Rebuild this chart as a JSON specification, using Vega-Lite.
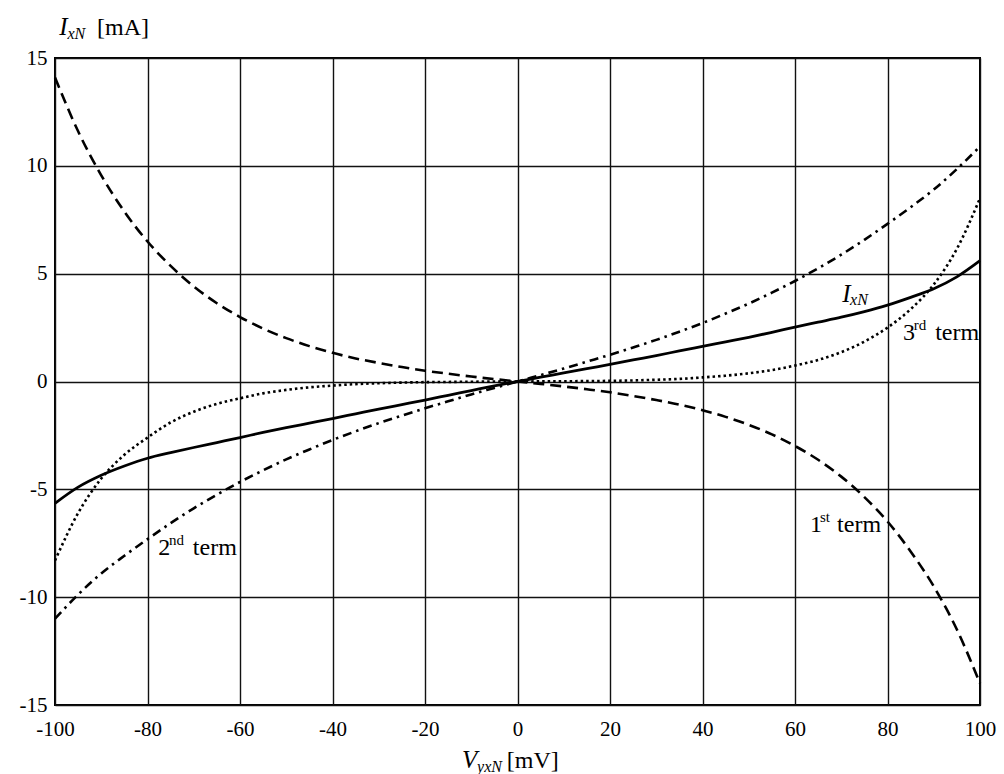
{
  "$schema": "https://vega.github.io/schema/vega-lite/v6.json",
  "width": 925,
  "height": 647,
  "autosize": {"type": "none"},
  "padding": {"left": 55, "top": 58, "right": 24, "bottom": 69},
  "background": "white",
  "config": {
    "view": {"stroke": "#000", "strokeWidth": 2},
    "axis": {
      "domain": false,
      "ticks": false,
      "grid": true,
      "gridColor": "#111",
      "gridOpacity": 1,
      "gridWidth": 1.4,
      "labelFont": "Liberation Serif, DejaVu Serif, serif",
      "labelFontSize": 21,
      "labelColor": "#000",
      "title": null
    },
    "text": {"font": "Liberation Serif, DejaVu Serif, serif", "color": "#000"}
  },
  "datasets": {
    "curves": [
      {"v": -100, "i": 14.1, "s": "t1"}, {"v": -95, "i": 11.6, "s": "t1"}, {"v": -90, "i": 9.56, "s": "t1"}, {"v": -85, "i": 7.88, "s": "t1"}, {"v": -80, "i": 6.49, "s": "t1"}, {"v": -75, "i": 5.36, "s": "t1"}, {"v": -70, "i": 4.41, "s": "t1"}, {"v": -65, "i": 3.63, "s": "t1"}, {"v": -60, "i": 2.99, "s": "t1"}, {"v": -55, "i": 2.45, "s": "t1"}, {"v": -50, "i": 2.01, "s": "t1"}, {"v": -45, "i": 1.64, "s": "t1"}, {"v": -40, "i": 1.33, "s": "t1"}, {"v": -35, "i": 1.07, "s": "t1"}, {"v": -30, "i": 0.86, "s": "t1"}, {"v": -25, "i": 0.67, "s": "t1"}, {"v": -20, "i": 0.5, "s": "t1"}, {"v": -15, "i": 0.36, "s": "t1"}, {"v": -10, "i": 0.23, "s": "t1"}, {"v": -5, "i": 0.11, "s": "t1"}, {"v": 0, "i": 0, "s": "t1"}, {"v": 5, "i": -0.11, "s": "t1"}, {"v": 10, "i": -0.23, "s": "t1"}, {"v": 15, "i": -0.36, "s": "t1"}, {"v": 20, "i": -0.5, "s": "t1"}, {"v": 25, "i": -0.67, "s": "t1"}, {"v": 30, "i": -0.86, "s": "t1"}, {"v": 35, "i": -1.07, "s": "t1"}, {"v": 40, "i": -1.33, "s": "t1"}, {"v": 45, "i": -1.64, "s": "t1"}, {"v": 50, "i": -2.01, "s": "t1"}, {"v": 55, "i": -2.45, "s": "t1"}, {"v": 60, "i": -2.99, "s": "t1"}, {"v": 65, "i": -3.63, "s": "t1"}, {"v": 70, "i": -4.41, "s": "t1"}, {"v": 75, "i": -5.36, "s": "t1"}, {"v": 80, "i": -6.49, "s": "t1"}, {"v": 85, "i": -7.88, "s": "t1"}, {"v": 90, "i": -9.5, "s": "t1"}, {"v": 95, "i": -11.5, "s": "t1"}, {"v": 100, "i": -14.0, "s": "t1"},

      {"v": -100, "i": -11.0, "s": "t2"}, {"v": -95, "i": -9.88, "s": "t2"}, {"v": -90, "i": -8.9, "s": "t2"}, {"v": -85, "i": -8.08, "s": "t2"}, {"v": -80, "i": -7.31, "s": "t2"}, {"v": -75, "i": -6.57, "s": "t2"}, {"v": -70, "i": -5.88, "s": "t2"}, {"v": -65, "i": -5.25, "s": "t2"}, {"v": -60, "i": -4.66, "s": "t2"}, {"v": -55, "i": -4.12, "s": "t2"}, {"v": -50, "i": -3.61, "s": "t2"}, {"v": -45, "i": -3.15, "s": "t2"}, {"v": -40, "i": -2.71, "s": "t2"}, {"v": -35, "i": -2.31, "s": "t2"}, {"v": -30, "i": -1.93, "s": "t2"}, {"v": -25, "i": -1.58, "s": "t2"}, {"v": -20, "i": -1.24, "s": "t2"}, {"v": -15, "i": -0.92, "s": "t2"}, {"v": -10, "i": -0.6, "s": "t2"}, {"v": -5, "i": -0.3, "s": "t2"}, {"v": 0, "i": 0, "s": "t2"}, {"v": 5, "i": 0.3, "s": "t2"}, {"v": 10, "i": 0.6, "s": "t2"}, {"v": 15, "i": 0.92, "s": "t2"}, {"v": 20, "i": 1.24, "s": "t2"}, {"v": 25, "i": 1.58, "s": "t2"}, {"v": 30, "i": 1.93, "s": "t2"}, {"v": 35, "i": 2.31, "s": "t2"}, {"v": 40, "i": 2.71, "s": "t2"}, {"v": 45, "i": 3.15, "s": "t2"}, {"v": 50, "i": 3.61, "s": "t2"}, {"v": 55, "i": 4.12, "s": "t2"}, {"v": 60, "i": 4.66, "s": "t2"}, {"v": 65, "i": 5.25, "s": "t2"}, {"v": 70, "i": 5.88, "s": "t2"}, {"v": 75, "i": 6.57, "s": "t2"}, {"v": 80, "i": 7.31, "s": "t2"}, {"v": 85, "i": 8.08, "s": "t2"}, {"v": 90, "i": 8.9, "s": "t2"}, {"v": 95, "i": 9.85, "s": "t2"}, {"v": 100, "i": 10.9, "s": "t2"},

      {"v": -100, "i": -8.3, "s": "t3"}, {"v": -95, "i": -6.1, "s": "t3"}, {"v": -90, "i": -4.5, "s": "t3"}, {"v": -85, "i": -3.4, "s": "t3"}, {"v": -80, "i": -2.6, "s": "t3"}, {"v": -75, "i": -1.9, "s": "t3"}, {"v": -70, "i": -1.4, "s": "t3"}, {"v": -65, "i": -1.04, "s": "t3"}, {"v": -60, "i": -0.78, "s": "t3"}, {"v": -55, "i": -0.55, "s": "t3"}, {"v": -50, "i": -0.39, "s": "t3"}, {"v": -45, "i": -0.27, "s": "t3"}, {"v": -40, "i": -0.19, "s": "t3"}, {"v": -35, "i": -0.12, "s": "t3"}, {"v": -30, "i": -0.08, "s": "t3"}, {"v": -25, "i": -0.05, "s": "t3"}, {"v": -20, "i": -0.03, "s": "t3"}, {"v": -15, "i": -0.02, "s": "t3"}, {"v": -10, "i": -0.01, "s": "t3"}, {"v": -5, "i": -0.005, "s": "t3"}, {"v": 0, "i": 0, "s": "t3"}, {"v": 5, "i": 0.005, "s": "t3"}, {"v": 10, "i": 0.01, "s": "t3"}, {"v": 15, "i": 0.02, "s": "t3"}, {"v": 20, "i": 0.03, "s": "t3"}, {"v": 25, "i": 0.05, "s": "t3"}, {"v": 30, "i": 0.08, "s": "t3"}, {"v": 35, "i": 0.12, "s": "t3"}, {"v": 40, "i": 0.19, "s": "t3"}, {"v": 45, "i": 0.27, "s": "t3"}, {"v": 50, "i": 0.38, "s": "t3"}, {"v": 55, "i": 0.53, "s": "t3"}, {"v": 60, "i": 0.74, "s": "t3"}, {"v": 65, "i": 1.0, "s": "t3"}, {"v": 70, "i": 1.36, "s": "t3"}, {"v": 75, "i": 1.85, "s": "t3"}, {"v": 80, "i": 2.5, "s": "t3"}, {"v": 85, "i": 3.35, "s": "t3"}, {"v": 90, "i": 4.5, "s": "t3"}, {"v": 95, "i": 6.15, "s": "t3"}, {"v": 100, "i": 8.5, "s": "t3"},

      {"v": -100, "i": -5.65, "s": "ixn"}, {"v": -95, "i": -4.9, "s": "ixn"}, {"v": -90, "i": -4.35, "s": "ixn"}, {"v": -85, "i": -3.92, "s": "ixn"}, {"v": -80, "i": -3.56, "s": "ixn"}, {"v": -75, "i": -3.3, "s": "ixn"}, {"v": -70, "i": -3.06, "s": "ixn"}, {"v": -65, "i": -2.83, "s": "ixn"}, {"v": -60, "i": -2.6, "s": "ixn"}, {"v": -55, "i": -2.36, "s": "ixn"}, {"v": -50, "i": -2.14, "s": "ixn"}, {"v": -45, "i": -1.93, "s": "ixn"}, {"v": -40, "i": -1.72, "s": "ixn"}, {"v": -35, "i": -1.5, "s": "ixn"}, {"v": -30, "i": -1.28, "s": "ixn"}, {"v": -25, "i": -1.07, "s": "ixn"}, {"v": -20, "i": -0.86, "s": "ixn"}, {"v": -15, "i": -0.64, "s": "ixn"}, {"v": -10, "i": -0.42, "s": "ixn"}, {"v": -5, "i": -0.2, "s": "ixn"}, {"v": 0, "i": 0, "s": "ixn"}, {"v": 5, "i": 0.2, "s": "ixn"}, {"v": 10, "i": 0.4, "s": "ixn"}, {"v": 15, "i": 0.6, "s": "ixn"}, {"v": 20, "i": 0.79, "s": "ixn"}, {"v": 25, "i": 1.0, "s": "ixn"}, {"v": 30, "i": 1.2, "s": "ixn"}, {"v": 35, "i": 1.42, "s": "ixn"}, {"v": 40, "i": 1.63, "s": "ixn"}, {"v": 45, "i": 1.84, "s": "ixn"}, {"v": 50, "i": 2.05, "s": "ixn"}, {"v": 55, "i": 2.28, "s": "ixn"}, {"v": 60, "i": 2.52, "s": "ixn"}, {"v": 65, "i": 2.75, "s": "ixn"}, {"v": 70, "i": 2.98, "s": "ixn"}, {"v": 75, "i": 3.24, "s": "ixn"}, {"v": 80, "i": 3.54, "s": "ixn"}, {"v": 85, "i": 3.9, "s": "ixn"}, {"v": 90, "i": 4.3, "s": "ixn"}, {"v": 95, "i": 4.85, "s": "ixn"}, {"v": 100, "i": 5.6, "s": "ixn"}
    ],
    "labels": [
      {"v": -99.1, "i": 16.06, "t": "I", "k": "it"},
      {"v": -97.3, "i": 15.9, "t": "xN", "k": "sub"},
      {"v": -90.9, "i": 16.06, "t": "[mA]", "k": "reg"},
      {"v": -12.0, "i": -17.9, "t": "V", "k": "it"},
      {"v": -8.75, "i": -18.1, "t": "yxN", "k": "sub"},
      {"v": -2.3, "i": -17.9, "t": "[mV]", "k": "reg"},
      {"v": 70.2, "i": 3.7, "t": "I", "k": "it"},
      {"v": 71.9, "i": 3.55, "t": "xN", "k": "sub"},
      {"v": 83.35, "i": 1.92, "t": "3", "k": "reg"},
      {"v": 85.7, "i": 2.39, "t": "rd", "k": "sup"},
      {"v": 90.3, "i": 1.92, "t": "term", "k": "reg"},
      {"v": -77.7, "i": -8.04, "t": "2", "k": "reg"},
      {"v": -75.35, "i": -7.58, "t": "nd", "k": "sup"},
      {"v": -70.2, "i": -8.04, "t": "term", "k": "reg"},
      {"v": 63.24, "i": -6.96, "t": "1", "k": "reg"},
      {"v": 65.4, "i": -6.5, "t": "st", "k": "sup"},
      {"v": 69.1, "i": -6.96, "t": "term", "k": "reg"}
    ]
  },
  "encoding": {
    "x": {
      "field": "v", "type": "quantitative",
      "scale": {"domain": [-100, 100], "nice": false, "zero": false},
      "axis": {"values": [-100, -80, -60, -40, -20, 0, 20, 40, 60, 80, 100], "labelPadding": 13, "labelExpr": "'' + datum.value", "labelFlush": false, "labelOverlap": false}
    },
    "y": {
      "field": "i", "type": "quantitative",
      "scale": {"domain": [-15, 15], "nice": false, "zero": false},
      "axis": {"values": [-15, -10, -5, 0, 5, 10, 15], "labelPadding": 8, "labelExpr": "'' + datum.value", "labelFlush": false, "labelOverlap": false}
    }
  },
  "layer": [
    {
      "data": {"name": "curves"},
      "transform": [{"filter": "datum.s === 't1'"}],
      "mark": {"type": "line", "color": "#000", "strokeWidth": 2.6, "strokeDash": [11, 6], "interpolate": "monotone"}
    },
    {
      "data": {"name": "curves"},
      "transform": [{"filter": "datum.s === 't2'"}],
      "mark": {"type": "line", "color": "#000", "strokeWidth": 2.6, "strokeDash": [9, 5, 2.5, 5], "interpolate": "monotone"}
    },
    {
      "data": {"name": "curves"},
      "transform": [{"filter": "datum.s === 't3'"}],
      "mark": {"type": "line", "color": "#000", "strokeWidth": 2.6, "strokeDash": [2.5, 3], "interpolate": "monotone"}
    },
    {
      "data": {"name": "curves"},
      "transform": [{"filter": "datum.s === 'ixn'"}],
      "mark": {"type": "line", "color": "#000", "strokeWidth": 2.8, "interpolate": "monotone"}
    },
    {
      "data": {"name": "labels"},
      "transform": [{"filter": "datum.k === 'it'"}],
      "mark": {"type": "text", "align": "left", "baseline": "alphabetic", "fontSize": 25, "fontStyle": "italic"},
      "encoding": {"text": {"field": "t"}}
    },
    {
      "data": {"name": "labels"},
      "transform": [{"filter": "datum.k === 'sub'"}],
      "mark": {"type": "text", "align": "left", "baseline": "alphabetic", "fontSize": 16, "fontStyle": "italic"},
      "encoding": {"text": {"field": "t"}}
    },
    {
      "data": {"name": "labels"},
      "transform": [{"filter": "datum.k === 'reg'"}],
      "mark": {"type": "text", "align": "left", "baseline": "alphabetic", "fontSize": 24},
      "encoding": {"text": {"field": "t"}}
    },
    {
      "data": {"name": "labels"},
      "transform": [{"filter": "datum.k === 'sup'"}],
      "mark": {"type": "text", "align": "left", "baseline": "alphabetic", "fontSize": 15},
      "encoding": {"text": {"field": "t"}}
    }
  ]
}
